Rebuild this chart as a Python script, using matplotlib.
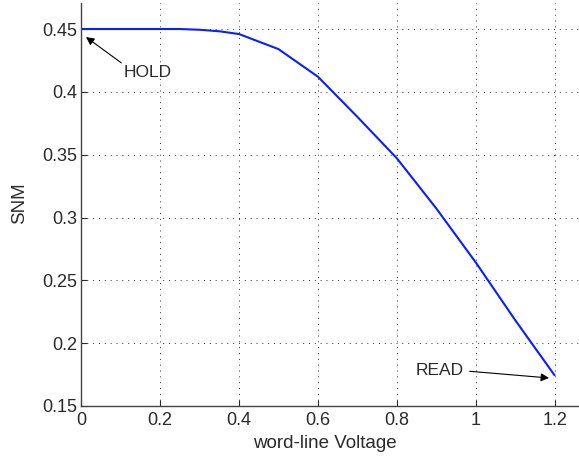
import numpy as np
import matplotlib
matplotlib.use("Agg")
import matplotlib.pyplot as plt

# word-line voltage vs static noise margin
voltage = [0.0, 0.1, 0.2, 0.25, 0.3, 0.35, 0.4, 0.5, 0.6, 0.7, 0.8, 0.9, 1.0, 1.1, 1.2]
snm = [0.450, 0.450, 0.450, 0.450, 0.4494, 0.4482, 0.446, 0.434, 0.412, 0.380,
       0.347, 0.307, 0.264, 0.218, 0.174]
xticks = [0, 0.2, 0.4, 0.6, 0.8, 1, 1.2]
xtick_labels = ["0", "0.2", "0.4", "0.6", "0.8", "1", "1.2"]
yticks = [0.15, 0.2, 0.25, 0.3, 0.35, 0.4, 0.45]
ytick_labels = ["0.15", "0.2", "0.25", "0.3", "0.35", "0.4", "0.45"]

plt.rcParams["font.family"] = ["Liberation Sans", "DejaVu Sans"]

fig = plt.figure(figsize=(5.79, 4.59), dpi=100)
ax = fig.add_axes([81 / 579, 53 / 459, 498 / 579, 403 / 459])

ax.plot(voltage, snm, color="#0a1eff", lw=1.5, solid_capstyle="butt")

ax.set_xlim(0, 1.2608)
ax.set_ylim(0.15, 0.4707)
ax.set_xticks(xticks)
ax.set_xticklabels(xtick_labels)
ax.set_yticks(yticks)
ax.set_yticklabels(ytick_labels)
ax.tick_params(direction="in", length=4, width=0.8, labelsize=13,
               colors="#2a2a2a")
ax.tick_params(axis="x", pad=4)
ax.tick_params(axis="y", pad=3)
ax.grid(True, color="#333333", linestyle=(0, (1, 5)), linewidth=0.7)

for s in ["top", "right"]:
    ax.spines[s].set_visible(False)
for s in ["left", "bottom"]:
    ax.spines[s].set_color("#444444")
    ax.spines[s].set_linewidth(1.0)

ax.set_xlabel("word-line Voltage", fontsize=13.5, color="#2a2a2a")
ax.xaxis.set_label_coords((325 - 81) / 498, -(435 - 406) / 403)
ax.set_ylabel("SNM", fontsize=13.5, color="#2a2a2a")
ax.yaxis.set_label_coords(-(81 - 28) / 498, (406 - 203) / 403)

ax.annotate("HOLD", xy=(0.0127, 0.4436), xytext=(0.109, 0.4155),
            fontsize=12.5, color="#2a2a2a", va="center", ha="left",
            arrowprops=dict(arrowstyle="-|>", color="black", lw=0.8,
                            shrinkA=0, shrinkB=0, relpos=(0.0, 1.0),
                            mutation_scale=12))
ax.annotate("READ", xy=(1.185, 0.1723), xytext=(0.970, 0.178),
            fontsize=12.5, color="#2a2a2a", va="center", ha="right",
            arrowprops=dict(arrowstyle="-|>", color="black", lw=0.8,
                            shrinkA=2, shrinkB=0, relpos=(1.0, 0.5),
                            mutation_scale=12))

fig.savefig("out.png", dpi=100)
